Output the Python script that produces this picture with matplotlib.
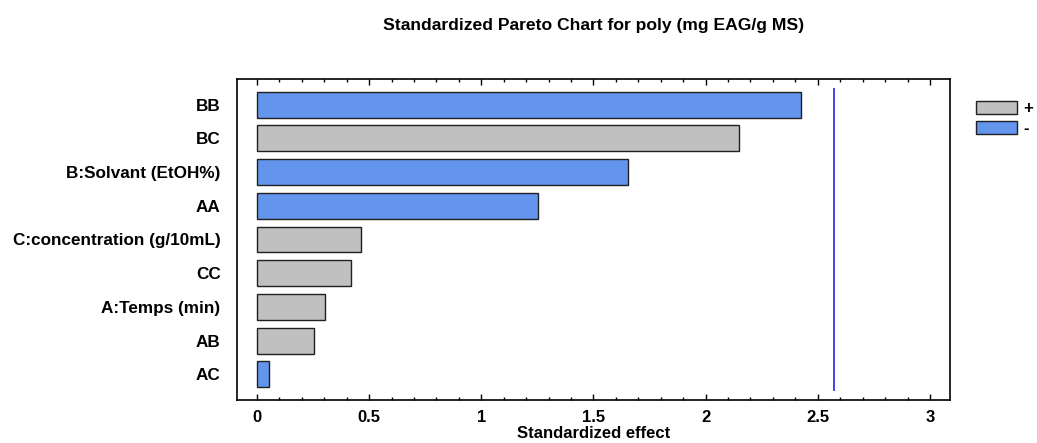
import numpy as np
import matplotlib
matplotlib.use("Agg")
import matplotlib.pyplot as plt
from matplotlib.patches import Patch
from matplotlib.ticker import MultipleLocator

plt.rcParams['font.family'] = ['Liberation Sans', 'DejaVu Sans']
plt.rcParams['font.weight'] = 'bold'

# effets standardisés, du plus grand au plus petit
effects = ['BB', 'BC', 'B:Solvant (EtOH%)', 'AA', 'C:concentration (g/10mL)',
           'CC', 'A:Temps (min)', 'AB', 'AC']
values = [2.424, 2.149, 1.653, 1.254, 0.464, 0.420, 0.305, 0.253, 0.052]
signs = ['-', '+', '-', '-', '+', '+', '+', '+', '-']
critical = 2.571

col_pos = '#c0c0c0'
col_neg = '#6495ed'

fig = plt.figure(figsize=(10.37, 4.43), dpi=100)
ax = fig.add_axes([0.2288, 0.0971, 0.6870, 0.7246])

ypos = np.arange(len(effects))[::-1]
colors = [col_pos if s == '+' else col_neg for s in signs]
ax.barh(ypos, values, height=0.77, color=colors, edgecolor='#202020', linewidth=1.0)

# ligne de la valeur critique
ax.vlines(critical, -0.5, len(effects) - 0.5, color='#2222ee', linewidth=1.2)

ax.set_xlim(-0.088, 3.088)
ax.set_ylim(-0.76, len(effects) - 1 + 0.76)

ax.set_yticks(ypos)
ax.set_yticklabels(effects, fontsize=12.3, fontweight='bold')
ax.tick_params(axis='y', length=0, pad=12)

ax.xaxis.set_major_locator(MultipleLocator(0.5))
ax.xaxis.set_minor_locator(MultipleLocator(0.1))
ax.set_xticks([0, 0.5, 1, 1.5, 2, 2.5, 3])
ax.set_xticklabels(['0', '0.5', '1', '1.5', '2', '2.5', '3'], fontsize=12, fontweight='bold')
ax.tick_params(axis='x', which='both', direction='in', top=True, bottom=True, width=1.0)
ax.tick_params(axis='x', which='major', length=4.5, pad=7)
ax.tick_params(axis='x', which='minor', length=2.2)

for sp in ax.spines.values():
    sp.set_linewidth(1.2)

ax.set_xlabel('Standardized effect', fontsize=12, fontweight='bold', labelpad=1)
ax.set_title('Standardized Pareto Chart for poly (mg EAG/g MS)', fontsize=12.6,
             fontweight='bold', pad=35)

handles = [Patch(facecolor=col_pos, edgecolor='#202020', linewidth=1.0),
           Patch(facecolor=col_neg, edgecolor='#202020', linewidth=1.0)]
fig.legend(handles, ['+', '-'], loc='upper left', bbox_to_anchor=(976 / 1037, 1 - 101 / 443),
           frameon=False, handlelength=2.45, handleheight=0.8,
           handletextpad=0.4, labelspacing=0.3, borderpad=0, borderaxespad=0,
           prop={'weight': 'bold', 'size': 12})

fig.savefig('out.png', dpi=100)
